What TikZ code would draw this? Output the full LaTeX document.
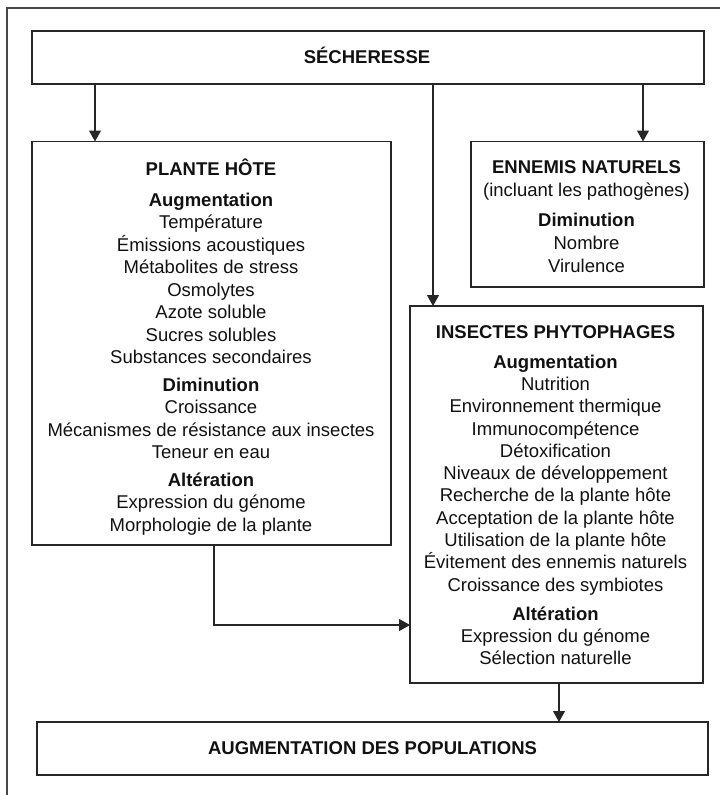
\documentclass[tikz,border=0pt]{standalone}
\usepackage{fontspec}
\setmainfont{Liberation Sans}
\usetikzlibrary{arrows.meta}
\definecolor{ink}{HTML}{111111}
\definecolor{linec}{HTML}{262626}
\tikzset{
  box/.style={draw=linec, line width=1.5pt, rectangle, inner sep=0pt, outer sep=0pt, fill=none},
  txt/.style={text=ink, inner sep=0pt, outer sep=0pt, align=center},
  arr/.style={draw=linec, line width=1.1pt, -{Triangle[length=11pt,width=12pt]}},
  framel/.style={draw=linec!85, line width=1.1pt},
}
\newcommand{\fs}[1]{\fontsize{18.5}{#1}\selectfont}
\newcommand{\topstrut}{\rule{0pt}{18pt}}
\begin{document}
\begin{tikzpicture}[x=1pt,y=-1pt]
\useasboundingbox (0,0) rectangle (720,795);
% outer frame
\coordinate (f1) at (7,795);
\coordinate (f2) at (7,8);
\coordinate (f3) at (720,8);
\draw[framel] (f1) -- (f2) -- (f3);

% boxes
\node[box, minimum width=672pt, minimum height=53pt] (sech) at (368,57.5) {};
\node[box, minimum width=359pt, minimum height=403.5pt] (plant) at (211.5,343.25) {};
\node[box, minimum width=233pt, minimum height=145.5pt] (enn) at (587.5,214.25) {};
\node[box, minimum width=293pt, minimum height=377pt] (ins) at (556.5,494.5) {};
\node[box, minimum width=671pt, minimum height=53pt] (pop) at (372.5,748.5) {};

% texts
\node[txt, anchor=base, font=\fs{22.5}\bfseries] (tsech) at (367,63) {SÉCHERESSE};
\node[txt, anchor=base, font=\fs{22.5}\bfseries] (tpop) at (372.5,754) {AUGMENTATION DES POPULATIONS};

\node[txt, anchor=north, font=\fs{22.5}] (tplant) at (211,157) {%
\topstrut\textbf{PLANTE HÔTE}\\[8.5pt]
\textbf{Augmentation}\\
Température\\
Émissions acoustiques\\
Métabolites de stress\\
Osmolytes\\
Azote soluble\\
Sucres solubles\\
Substances secondaires\\[5pt]
\textbf{Diminution}\\
Croissance\\
Mécanismes de résistance aux insectes\\
Teneur en eau\\[5pt]
\textbf{Altération}\\
Expression du génome\\
Morphologie de la plante};

\node[txt, anchor=north, font=\fs{23}] (tenn) at (586.5,155) {%
\topstrut\textbf{ENNEMIS NATURELS}\\
(incluant les pathogènes)\\[7pt]
\textbf{Diminution}\\
Nombre\\
Virulence};

\node[txt, anchor=north, font=\fs{22.3}] (tins) at (555.5,320) {%
\topstrut\textbf{INSECTES PHYTOPHAGES}\\[7.8pt]
\textbf{Augmentation}\\
Nutrition\\
Environnement thermique\\
Immunocompétence\\
Détoxification\\
Niveaux de développement\\
Recherche de la plante hôte\\
Acceptation de la plante hôte\\
Utilisation de la plante hôte\\
Évitement des ennemis naturels\\
Croissance des symbiotes\\[6.7pt]
\textbf{Altération}\\
Expression du génome\\
Sélection naturelle};

% connector guides
\coordinate (xa) at (95,0);
\coordinate (xb) at (433,0);
\coordinate (xc) at (643,0);
\coordinate (xd) at (214,0);
\coordinate (yd) at (0,625);
\coordinate (xe) at (559,0);

\draw[arr] (sech.south -| xa) -- (plant.north -| xa);
\draw[arr] (sech.south -| xb) -- (ins.north -| xb);
\draw[arr] (sech.south -| xc) -- (enn.north -| xc);
\draw[arr] (plant.south -| xd) |- (ins.west |- yd);
\draw[arr] (ins.south -| xe) -- (pop.north -| xe);
\end{tikzpicture}
\end{document}
